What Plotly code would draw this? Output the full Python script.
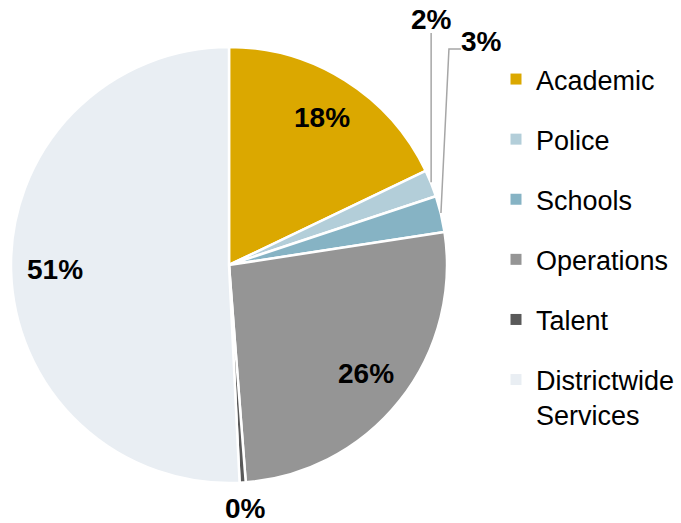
import math
import plotly.graph_objects as go

# ---- data ----
categories = ["Academic", "Police", "Schools", "Operations", "Talent", "Districtwide Services"]
legend_labels = ["Academic", "Police", "Schools", "Operations", "Talent", "Districtwide<br>Services"]
values = [17.9, 2.0, 2.7, 26.2, 0.45, 50.8]
colors = ["#DBA800", "#B3CED9", "#86B3C4", "#959595", "#595959", "#E9EEF3"]
# how each slice's percentage is labelled
label_kind = ["inside", "up", "elbow", "inside", "below", "inside"]

# ---- layout geometry (pixels) ----
W, H = 681, 523
CX, CY, R = 229, 265, 218
FONT = "Liberation Sans, Arial, sans-serif"
LABEL_FONT = dict(family=FONT, size=28, color="black", weight="bold")
LINE = dict(color="#A6A6A6", width=1.5)


def px_to_paper(x, y):
    return x / W, 1 - y / H


fig = go.Figure()
fig.add_trace(go.Pie(
    labels=categories, values=values, sort=False, direction="clockwise", rotation=0,
    marker=dict(colors=colors, line=dict(color="white", width=2.5)),
    textinfo="none",
    domain=dict(x=[(CX - R) / W, (CX + R) / W], y=[1 - (CY + R) / H, 1 - (CY - R) / H]),
    showlegend=False, hoverinfo="label+percent",
))

# legend entries (one group each so spacing can be controlled)
for name, col in zip(legend_labels, colors):
    fig.add_trace(go.Scatter(
        x=[None], y=[None], mode="markers", name=name, legendgroup=name,
        marker=dict(symbol="square", size=11, color=col), hoverinfo="skip",
    ))

# percentage labels, positioned from each slice's mid angle
total = sum(values)
annotations, shapes = [], []
cum = 0.0
for i, v in enumerate(values):
    mid = (cum + v / 2) / total * 2 * math.pi
    cum += v
    kind = label_kind[i]
    text = f"{round(v / total * 100)}%"
    ex = CX + R * math.sin(mid)
    ey = CY - R * math.cos(mid)
    if kind == "inside":
        r = 0.8 * R
        p = px_to_paper(CX + r * math.sin(mid), CY - r * math.cos(mid))
        annotations.append(dict(x=p[0], y=p[1], xref="paper", yref="paper", text=text,
                                showarrow=False, xanchor="center", yanchor="middle",
                                font=LABEL_FONT))
    elif kind == "up":
        p0 = px_to_paper(ex, ey - 1)
        p1 = px_to_paper(ex, 33)
        shapes.append(dict(type="path", xref="paper", yref="paper",
                           path=f"M {p0[0]},{p0[1]} L {p1[0]},{p1[1]}", line=LINE))
        annotations.append(dict(x=p1[0], y=p1[1], xref="paper", yref="paper", text=text,
                                showarrow=False, xanchor="center", yanchor="bottom",
                                font=LABEL_FONT, yshift=-4))
    elif kind == "elbow":
        p0 = px_to_paper(ex, ey - 1)
        p1 = px_to_paper(ex + 8, 49)
        p2 = px_to_paper(ex + 20, 49)
        shapes.append(dict(type="path", xref="paper", yref="paper",
                           path=f"M {p0[0]},{p0[1]} L {p1[0]},{p1[1]} L {p2[0]},{p2[1]}",
                           line=LINE))
        annotations.append(dict(x=p2[0], y=p2[1], xref="paper", yref="paper", text=text,
                                showarrow=False, xanchor="left", yanchor="middle",
                                font=LABEL_FONT, yshift=8, xshift=-2))
    else:
        # below the pie, kept inside the figure's bottom edge
        p0 = px_to_paper(ex + 3, H)
        annotations.append(dict(x=p0[0], y=p0[1], xref="paper", yref="paper", text=text,
                                showarrow=False, xanchor="center", yanchor="bottom",
                                borderpad=0, font=LABEL_FONT, yshift=-2))

fig.update_layout(
    width=W, height=H,
    margin=dict(l=0, r=0, t=0, b=0, autoexpand=False),
    paper_bgcolor="white", plot_bgcolor="white",
    xaxis=dict(visible=False), yaxis=dict(visible=False),
    showlegend=True,
    legend=dict(x=496 / W, xanchor="left", y=1 - 55 / H, yanchor="top",
                font=dict(family=FONT, size=27, color="black"),
                tracegroupgap=22, valign="top", bgcolor="rgba(0,0,0,0)",
                itemclick=False, itemdoubleclick=False),
    annotations=annotations, shapes=shapes,
    font=dict(family=FONT, color="black"),
)

fig.write_html("out.html", config={"displayModeBar": False},
               post_script="document.body.style.margin='0px';")
